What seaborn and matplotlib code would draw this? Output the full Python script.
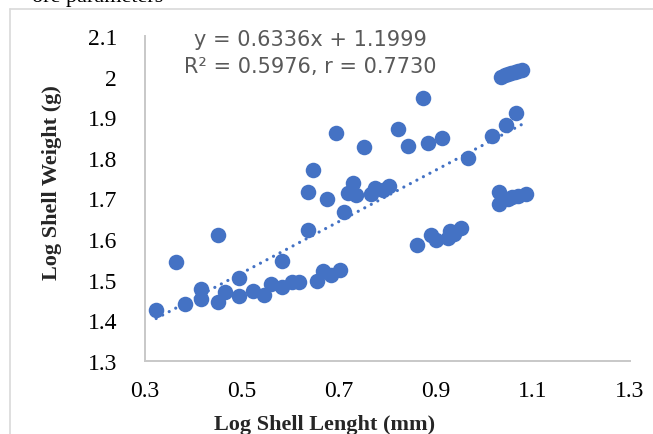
import numpy as np
import pandas as pd
import matplotlib
matplotlib.use("Agg")
import matplotlib.pyplot as plt
import seaborn as sns

# Log-transformed shell measurements
log_length = [
    0.323, 0.364, 0.383, 0.416, 0.416, 0.450, 0.450, 0.464, 0.493, 0.493,
    0.522, 0.546, 0.559, 0.582, 0.583, 0.604, 0.617, 0.637, 0.655, 0.666,
    0.684, 0.702,
    0.636, 0.646, 0.675, 0.693, 0.711, 0.719, 0.728, 0.736, 0.752, 0.766,
    0.774, 0.790, 0.804, 0.822, 0.842, 0.873, 0.883, 0.912, 0.965, 1.016,
    1.045, 1.065,
    0.860, 0.890, 0.900, 0.925, 0.928, 0.938, 0.951,
    1.030, 1.030, 1.048, 1.056, 1.070, 1.085,
    1.035, 1.042, 1.048, 1.055, 1.062, 1.070, 1.078,
]
log_weight = [
    1.426, 1.543, 1.440, 1.477, 1.453, 1.611, 1.445, 1.471, 1.504, 1.461,
    1.473, 1.463, 1.490, 1.546, 1.482, 1.495, 1.495, 1.623, 1.498, 1.522,
    1.512, 1.525,
    1.717, 1.771, 1.699, 1.862, 1.666, 1.714, 1.738, 1.709, 1.827, 1.711,
    1.725, 1.722, 1.730, 1.871, 1.829, 1.947, 1.837, 1.848, 1.799, 1.855,
    1.881, 1.910,
    1.586, 1.610, 1.598, 1.603, 1.621, 1.613, 1.627,
    1.716, 1.687, 1.700, 1.703, 1.705, 1.711,
    2.000, 2.004, 2.007, 2.009, 2.011, 2.014, 2.017,
]

# Linear trendline coefficients and fit statistics
slope = 0.6336
intercept = 1.1999
r_squared = 0.5976
r_value = 0.7730

x_ticks = [0.3, 0.5, 0.7, 0.9, 1.1, 1.3]
y_ticks = [1.3, 1.4, 1.5, 1.6, 1.7, 1.8, 1.9, 2.0, 2.1]
y_tick_labels = ["1.3", "1.4", "1.5", "1.6", "1.7", "1.8", "1.9", "2", "2.1"]

df = pd.DataFrame({"length": log_length, "weight": log_weight})

sns.set_theme(style="white")
plt.rcParams["font.family"] = ["Liberation Serif", "DejaVu Serif"]

blue = "#4472C4"
axis_grey = "#c8c8c8"

fig = plt.figure(figsize=(6.53, 4.35), dpi=100)
fig.patch.set_facecolor("white")

# outer chart frame (extends beyond the right and bottom edges)
fig.add_artist(plt.Line2D([10 / 653, 10 / 653], [0, 1 - 10 / 435],
                          transform=fig.transFigure, color="#d9d9d9", lw=1.2))
fig.add_artist(plt.Line2D([10 / 653, 1], [1 - 10 / 435, 1 - 10 / 435],
                          transform=fig.transFigure, color="#d9d9d9", lw=1.2))
fig.text(32 / 653, 1 - 2 / 435, "ore parameters", fontsize=16,
         va="baseline", ha="left", color="black")

ax = fig.add_axes([145 / 653, 1 - 362 / 435, 485 / 653, 325 / 435])

sns.scatterplot(data=df, x="length", y="weight", ax=ax, s=125,
                color=blue, linewidth=0, alpha=1, zorder=3)

# trendline drawn from the stated equation
xs = np.array([min(log_length), max(log_length)])
ax.plot(xs, slope * xs + intercept, color=blue, lw=2.3,
        linestyle=(0, (0.01, 2.3)), dash_capstyle="round", zorder=2)

ax.set_xlim(0.3, 1.3)
ax.set_ylim(1.3, 2.1)
ax.set_xticks(x_ticks)
ax.set_xticklabels([f"{v:.1f}" for v in x_ticks])
ax.set_yticks(y_ticks)
ax.set_yticklabels(y_tick_labels)
ax.tick_params(axis="both", length=0, labelsize=17, colors="black")
ax.tick_params(axis="y", pad=20)
ax.tick_params(axis="x", pad=14)

for side in ["top", "right"]:
    ax.spines[side].set_visible(False)
for side in ["left", "bottom"]:
    ax.spines[side].set_color(axis_grey)
    ax.spines[side].set_linewidth(1.4)

ax.set_xlabel("Log Shell Lenght (mm)", fontsize=16, fontweight="bold")
ax.set_ylabel("Log Shell Weight (g)", fontsize=16, fontweight="bold")
ax.xaxis.set_label_coords((325 - 145) / 485, -(425 - 362) / 325)
ax.yaxis.set_label_coords((52 - 145) / 485, (362 - 183) / 325)
ax.xaxis.label.set_va("center")
ax.yaxis.label.set_va("center")

eq_font = dict(family="DejaVu Sans", fontsize=15, color="#595959",
               ha="center", va="center")
fig.text(310 / 653, 1 - 40 / 435, f"y = {slope:.4f}x + {intercept:.4f}", **eq_font)
fig.text(310 / 653, 1 - 67 / 435, f"R² = {r_squared:.4f}, r = {r_value:.4f}", **eq_font)

fig.savefig("out.png", dpi=100, facecolor="white")
